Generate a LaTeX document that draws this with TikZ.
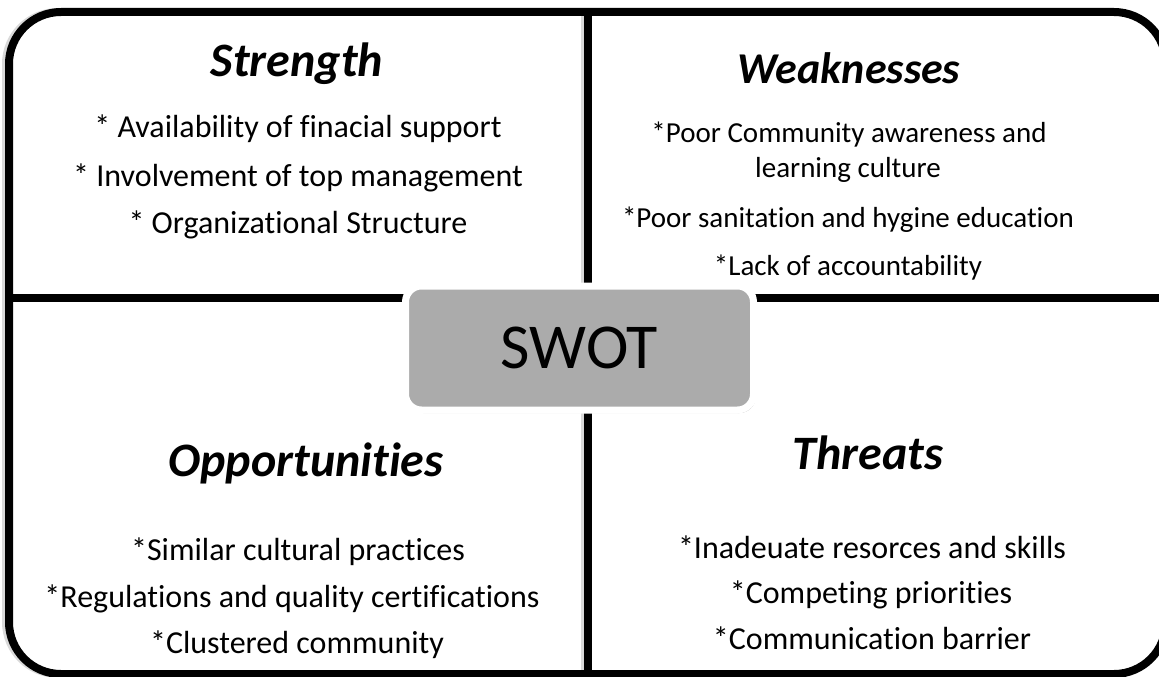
\documentclass[tikz,border=0pt]{standalone}
\usepackage{fontspec}
\setmainfont[Ligatures=CommonOff]{Carlito}
\usetikzlibrary{shadows}
\definecolor{swotgray}{RGB}{171,171,171}
\begin{document}
\begin{tikzpicture}[x=1pt,y=-1pt,
  frame/.style={line width=8pt, draw=black},
  shade/.style={line width=8pt, draw=black, opacity=0.15},
  title/.style={anchor=base, inner sep=0pt, font=\fontsize{48}{56}\selectfont\bfseries\itshape},
  item/.style={anchor=base, inner sep=0pt, font=\fontsize{32}{38}\selectfont},
  wtitle/.style={title, font=\fontsize{44}{52}\selectfont\bfseries\itshape},
  witem/.style={item, font=\fontsize{29}{35}\selectfont},
  swotbox/.style={draw=white, line width=7pt, fill=swotgray, rounded corners=16pt,
    minimum width=348pt, minimum height=124pt, inner sep=0pt,
    drop shadow={shadow xshift=2pt, shadow yshift=-3pt, opacity=0.3, fill=black},
    font=\fontsize{64}{72}\selectfont}
]
\useasboundingbox (0,0) rectangle (1159,677);
\clip (0,0) rectangle (1159,677);
\fill[white] (0,0) rectangle (1159,677);
% faint shadows (left side only)
\begin{scope}
\clip (0,0) rectangle (60,677);
\draw[shade, rounded corners=52pt] (6,12) rectangle (1163,674);
\end{scope}
\draw[shade] (585,14) -- (585,674);
% frame and dividers
\draw[frame, rounded corners=52pt] (9,12) rectangle (1166,674);
\coordinate (vt) at (588,12);
\coordinate (vb) at (588,674);
\coordinate (hl) at (9,298);
\coordinate (hr) at (1166,298);
\draw[frame, line width=7.5pt] (vt) -- (vb);
\draw[frame] (hl) -- (hr);
\node[swotbox] (swot) at (579.5,348) {SWOT};
% Strength
\node[title] (st) at (297,77) {Strength};
\node[item] (s1) at (298,137) {* Availability of finacial support};
\node[item] (s2) at (298,186) {* Involvement of top management};
\node[item] (s3) at (298,233) {* Organizational Structure};
% Weaknesses
\node[wtitle] (wt) at (849,83) {Weaknesses};
\node[witem] (w1) at (849,142) {*Poor Community awareness and};
\node[witem] (w2) at (848,177) {learning culture};
\node[witem] (w3) at (848,227) {*Poor sanitation and hygine education};
\node[witem] (w4) at (848,275) {*Lack of accountability};
% Opportunities
\node[title] (ot) at (306,476) {Opportunities};
\node[item] (o1) at (298,560) {*Similar cultural practices};
\node[item] (o2) at (292,607) {*Regulations and quality certifications};
\node[item] (o3) at (297,653) {*Clustered community};
% Threats
\node[title] (tt) at (868,469) {Threats};
\node[item] (t1) at (872,558) {*Inadeuate resorces and skills};
\node[item] (t2) at (871,603) {*Competing priorities};
\node[item] (t3) at (872,649) {*Communication barrier};
\end{tikzpicture}
\end{document}
